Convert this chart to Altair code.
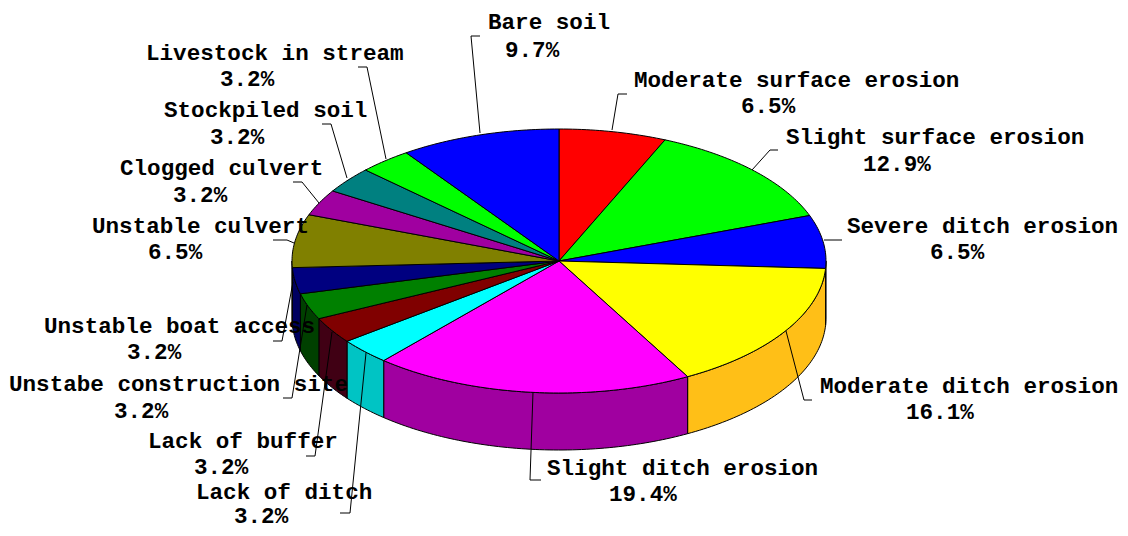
import math
import altair as alt
import pandas as pd

categories = ["Moderate surface erosion", "Slight surface erosion", "Severe ditch erosion",
              "Moderate ditch erosion", "Slight ditch erosion", "Lack of ditch", "Lack of buffer",
              "Unstabe construction site", "Unstable boat access", "Unstable culvert",
              "Clogged culvert", "Stockpiled soil", "Livestock in stream", "Bare soil"]
shares = [6.5, 12.9, 6.5, 16.1, 19.4, 3.2, 3.2, 3.2, 3.2, 6.5, 3.2, 3.2, 3.2, 9.7]
top_colors = ["#FF0000", "#00FF00", "#0000FF", "#FFFF00", "#FF00FF", "#00FFFF", "#800000",
              "#008000", "#000080", "#808000", "#A000A0", "#008080", "#00FF00", "#0000FF"]
wall_colors = ["#C00000", "#00C000", "#0000C8", "#FFBF17", "#A000A0", "#00C4C4", "#400014",
               "#004000", "#000060", "#606000", "#700070", "#006060", "#00C000", "#0000C0"]
name_x = [634, 786, 847, 820, 547, 196, 148, 9, 44, 92, 120, 164, 146, 488]
name_y = [80, 137, 226, 386, 468, 492, 441, 384, 326, 226, 168, 110, 53, 22]
pct_x = [741, 863, 930, 906, 609, 234, 194, 114, 127, 148, 173, 210, 220, 505]
pct_y = [106, 164, 252, 412, 494, 516, 467, 411, 352, 252, 195, 137, 79, 50]
leaders = [
    [(612, 130), (618, 94), (627, 94)],
    [(752, 170), (770, 150), (778, 150)],
    [(824, 240), (842, 240)],
    [(786, 331), (804, 400), (812, 400)],
    [(533, 392), (530, 480), (541, 480)],
    [(366, 353), (350, 513), (340, 513)],
    [(332, 332), (315, 456), (306, 456)],
    [(307, 305), (292, 398), (283, 398)],
    [(293, 282), (282, 341), (273, 341)],
    [(294, 243), (287, 240), (273, 240)],
    [(319, 203), (302, 182), (293, 182)],
    [(347, 178), (331, 124), (322, 124)],
    [(386, 159), (367, 67), (358, 67)],
    [(480, 133), (471, 36), (480, 36)],
]
CX, CY, RX, RY, DEPTH = 559, 261, 267, 132, 57


def rim(angle, drop=0):
    rad = math.radians(angle)
    return CX + RX * math.sin(rad), CY - RY * math.cos(rad) + drop


def arc(a0, a1, drop=0):
    n = max(2, int(abs(a1 - a0) / 1.0) + 1)
    return [rim(a0 + (a1 - a0) * i / n, drop) for i in range(n + 1)]


tops, walls = [], []
start = 0.0
for i, share in enumerate(shares):
    a0 = start * 3.6
    a1 = (start + share) * 3.6
    start += share
    pts = [(CX, CY)] + arc(a0, a1) + [(CX, CY)]
    for k, (x, y) in enumerate(pts):
        tops.append(dict(key=i, step=k, x=x, y=y, c=top_colors[i]))
    w0, w1 = max(a0, 90), min(a1, 270)
    if w1 > w0:
        pts = arc(w0, w1) + arc(w1, w0, DEPTH)
        pts.append(pts[0])
        for k, (x, y) in enumerate(pts):
            walls.append(dict(key=i, step=k, x=x, y=y, c=wall_colors[i]))

lead_rows = [dict(key=i, step=k, x=x, y=y) for i, pl in enumerate(leaders) for k, (x, y) in enumerate(pl)]
name_rows = pd.DataFrame(dict(t=categories, x=name_x, y=name_y))
pct_rows = pd.DataFrame(dict(t=[f"{s:.1f}%" for s in shares], x=pct_x, y=pct_y))

xs = alt.Scale(domain=[8, 1120], range=[0, 1112], nice=False, zero=False)
ys = alt.Scale(domain=[8, 528], range=[0, 520], nice=False, zero=False)
X = alt.X("x:Q", scale=xs, axis=None)
Y = alt.Y("y:Q", scale=ys, axis=None)


def polys(rows):
    return alt.Chart(pd.DataFrame(rows)).mark_line(stroke="black", strokeWidth=1, strokeJoin="round").encode(
        x=X, y=Y, detail="key:N", order="step:Q", fill=alt.Fill("c:N", scale=None))


lead = alt.Chart(pd.DataFrame(lead_rows)).mark_line(stroke="black", strokeWidth=1).encode(
    x=X, y=Y, detail="key:N", order="step:Q")


def labels(df):
    return alt.Chart(df).mark_text(font="Liberation Mono", fontWeight="bold", fontSize=22.6,
                                   align="left", baseline="middle", color="black").encode(x=X, y=Y, text="t:N")


chart = alt.layer(polys(walls), polys(tops), lead, labels(name_rows), labels(pct_rows)).properties(
    width=1112, height=520, padding=0, autosize="none").configure_view(stroke=None)
chart.save("out.html", embed_options={"renderer": "svg", "actions": False})
